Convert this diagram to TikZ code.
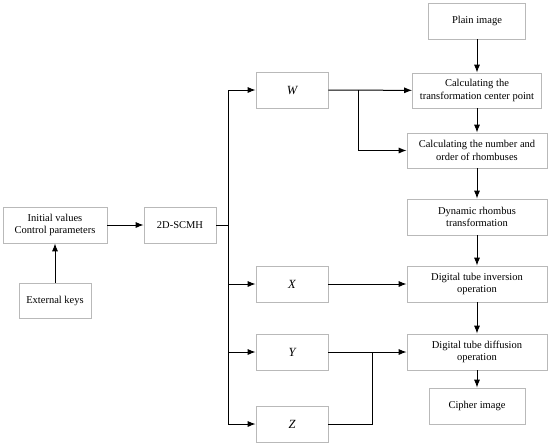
\documentclass[tikz,border=0pt]{standalone}
\usepackage{fontspec}
\setmainfont{Liberation Serif}
\usepackage{tikz}
\usetikzlibrary{arrows.meta}
\newcommand{\arw}{-{Latex[length=2.8mm,width=2.1mm]}}

\begin{document}
\begin{tikzpicture}[x=1pt,y=-1pt,
  box/.style={draw=gray!55,line width=.6pt,align=center,inner sep=1pt,
    minimum height=36pt,font=\fontsize{10.5}{12.5}\selectfont},
  wide/.style={box,minimum width=140pt},
  small/.style={box,minimum width=72pt,font=\fontsize{12.5}{14}\selectfont\itshape},
  every path/.style={line width=1pt}]
\useasboundingbox (0,0) rectangle (550,445);
%left part
\node[box,minimum width=104pt] (init) at (55,225) {Initial values\\Control parameters};
\node[box,minimum width=72pt,minimum height=35pt] (keys) at (55,300.5) {External keys};
\node[box,minimum width=72pt] (scmh) at (180,225) {2D-SCMH};
%keys
\node[small] (W) at (292,90) {W};
\node[small] (X) at (292,284) {X};
\node[small] (Y) at (292,352) {Y};
\node[small] (Z) at (292,424) {Z};
%right column
\node[box,minimum width=97pt] (plain) at (477,21) {Plain image};
\node[box,minimum width=129pt,minimum height=35pt] (center) at (477,90.5) {Calculating the\\transformation center point};
\node[wide,minimum height=35pt] (number) at (477,150.5) {Calculating the number and\\order of rhombuses};
\node[wide] (dyn) at (477,217) {Dynamic rhombus\\transformation};
\node[wide] (inv) at (477,284) {Digital tube inversion\\operation};
\node[wide] (diff) at (477,352) {Digital tube diffusion\\operation};
\node[box,minimum width=96pt] (cipher) at (477,406) {Cipher image};
%bus
\coordinate (bt) at (228,90);
\coordinate (bb) at (228,424);
\coordinate (wj) at (358,90);
\coordinate (yj) at (372,352);
\draw[\arw] (keys) -- (init);
\draw[\arw] (init) -- (scmh);
\draw (scmh.east) -- (bt |- scmh.east);
\draw (bt) -- (bb);
\draw[\arw] (bt) -- (W);
\draw[\arw] (bt |- X.west) -- (X);
\draw[\arw] (bt |- Y.west) -- (Y);
\draw[\arw] (bb) -- (Z);
\draw[\arw] (W) -- (center);
\draw[\arw] (wj) |- (number);
\draw[\arw] (X) -- (inv);
\draw[\arw] (Y) -- (diff);
\draw (Z.east) -| (yj);
%chain
\draw[\arw] (plain) -- (center);
\draw[\arw] (center) -- (number);
\draw[\arw] (number) -- (dyn);
\draw[\arw] (dyn) -- (inv);
\draw[\arw] (inv) -- (diff);
\draw[\arw] (diff) -- (cipher);
\end{tikzpicture}
\end{document}
